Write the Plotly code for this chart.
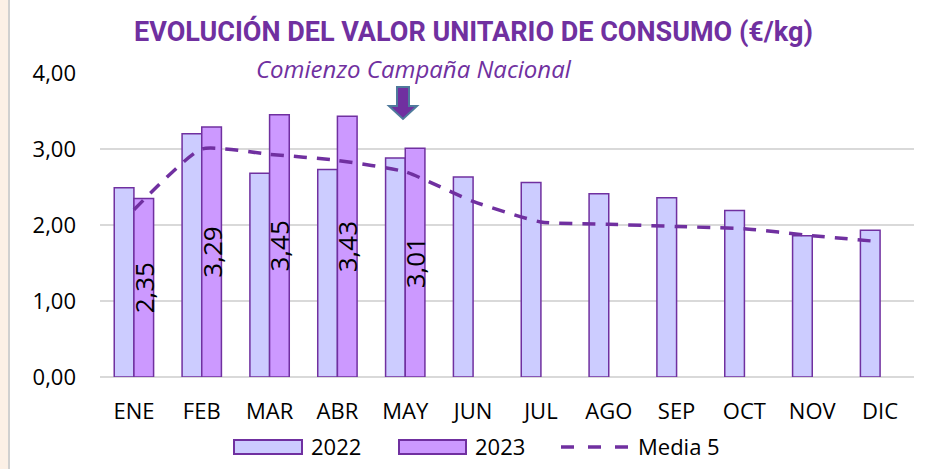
import plotly.graph_objects as go

# Monthly unit consumption value (EUR/kg)
meses = ["ENE", "FEB", "MAR", "ABR", "MAY", "JUN", "JUL", "AGO", "SEP", "OCT", "NOV", "DIC"]
valor_2022 = [2.49, 3.20, 2.68, 2.73, 2.88, 2.63, 2.56, 2.41, 2.36, 2.19, 1.86, 1.93]
valor_2023 = [2.35, 3.29, 3.45, 3.43, 3.01, None, None, None, None, None, None, None]
media_5 = [2.20, 3.00, 2.93, 2.85, 2.70, 2.31, 2.04, 2.01, 1.98, 1.95, 1.86, 1.78]
ticks_y = [0, 1, 2, 3, 4]
ticks_y_txt = ["0,00", "1,00", "2,00", "3,00", "4,00"]

PURPLE = "#7030A0"
FILL_22 = "#CCCCFF"
FILL_23 = "#CC99FF"
FONT = "Open Sans, Liberation Sans, sans-serif"

W, H = 932, 469
L, R, T, B = 100, 18, 73, 92
PW, PH = W - L - R, H - T - B


def px(x):
    return (x - L) / PW


def py(y):
    return (H - B - y) / PH


def fmt(v):
    return f"{v:.2f}".replace(".", ",")


fig = go.Figure()

fig.add_trace(go.Bar(
    x=meses, y=valor_2022, name="2022",
    marker=dict(color=FILL_22, line=dict(color=PURPLE, width=1.5)),
    showlegend=False,
))
fig.add_trace(go.Bar(
    x=meses, y=valor_2023, name="2023",
    marker=dict(color=FILL_23, line=dict(color=PURPLE, width=1.5)),
    text=[fmt(v) if v is not None else "" for v in valor_2023],
    textposition="inside", insidetextanchor="middle", textangle=-90,
    constraintext="none",
    textfont=dict(family=FONT, size=26, color="#000000"),
    showlegend=False,
))
fig.add_trace(go.Scatter(
    x=meses, y=media_5, name="Media 5", mode="lines",
    line=dict(color=PURPLE, width=3.5, dash="13px,10px", shape="spline", smoothing=0.5),
    showlegend=False,
))

shapes = [
    # left page strip
    dict(type="rect", xref="paper", yref="paper", x0=px(0), x1=px(8), y0=py(H), y1=py(0),
         fillcolor="#FCF0E6", line=dict(width=0), layer="below"),
    dict(type="line", xref="paper", yref="paper", x0=px(9), x1=px(9), y0=py(H), y1=py(0),
         line=dict(color="#D0D0D0", width=2)),
    # campaign arrow
    dict(type="path", xref="paper", yref="paper",
         path=("M {a},{b} L {c},{b} L {c},{d} L {e},{d} L {f},{g} L {h},{d} L {i},{d} L {i},{b} Z").format(
             a=px(397), b=py(87), c=px(409), d=py(106), e=px(417), f=px(403), g=py(119),
             h=px(389), i=px(397)),
         fillcolor=PURPLE, line=dict(color="#4F7A9C", width=2)),
    # legend swatches
    dict(type="rect", xref="paper", yref="paper", x0=px(234), x1=px(302), y0=py(454), y1=py(440),
         fillcolor=FILL_22, line=dict(color=PURPLE, width=2)),
    dict(type="rect", xref="paper", yref="paper", x0=px(399), x1=px(466), y0=py(454), y1=py(440),
         fillcolor=FILL_23, line=dict(color=PURPLE, width=2)),
    dict(type="line", xref="paper", yref="paper", x0=px(561), x1=px(631), y0=py(447), y1=py(447),
         line=dict(color=PURPLE, width=3.5, dash="13px,14px")),
]

annotations = [
    dict(text="<b>EVOLUCIÓN DEL VALOR UNITARIO DE CONSUMO (€/kg)</b>", xref="paper", yref="paper",
         x=px(473), y=py(31), showarrow=False, xanchor="center", yanchor="middle",
         font=dict(family="Liberation Sans Narrow, Roboto, sans-serif", size=27, color=PURPLE)),
    dict(text="<i>Comienzo Campaña Nacional</i>", xref="paper", yref="paper",
         x=px(414), y=py(68), showarrow=False, xanchor="center", yanchor="middle",
         font=dict(family=FONT, size=24, color=PURPLE)),
    dict(text="2022", xref="paper", yref="paper", x=px(309), y=py(446), showarrow=False,
         xanchor="left", yanchor="middle", font=dict(family=FONT, size=22, color="#000")),
    dict(text="2023", xref="paper", yref="paper", x=px(473), y=py(446), showarrow=False,
         xanchor="left", yanchor="middle", font=dict(family=FONT, size=22, color="#000")),
    dict(text="Media 5", xref="paper", yref="paper", x=px(636), y=py(446), showarrow=False,
         xanchor="left", yanchor="middle", font=dict(family=FONT, size=22, color="#000")),
]

fig.update_layout(
    width=W, height=H,
    margin=dict(l=L, r=R, t=T, b=B),
    paper_bgcolor="white", plot_bgcolor="white",
    barmode="group", bargap=0.42, bargroupgap=0,
    shapes=shapes, annotations=annotations,
    font=dict(family=FONT, size=21, color="#000"),
)
fig.update_xaxes(showgrid=False, showline=False, ticks="", ticklabelstandoff=19,
                 tickfont=dict(family=FONT, size=22, color="#000"))
fig.update_yaxes(range=[0, 4], tickvals=ticks_y, ticktext=ticks_y_txt,
                 showgrid=True, gridcolor="#D9D9D9", gridwidth=1.5,
                 zeroline=True, zerolinecolor="#D9D9D9", zerolinewidth=1.5,
                 showline=False, ticks="", ticklabelstandoff=23,
                 tickfont=dict(family=FONT, size=22, color="#000"))

fig.write_html("out.html")
